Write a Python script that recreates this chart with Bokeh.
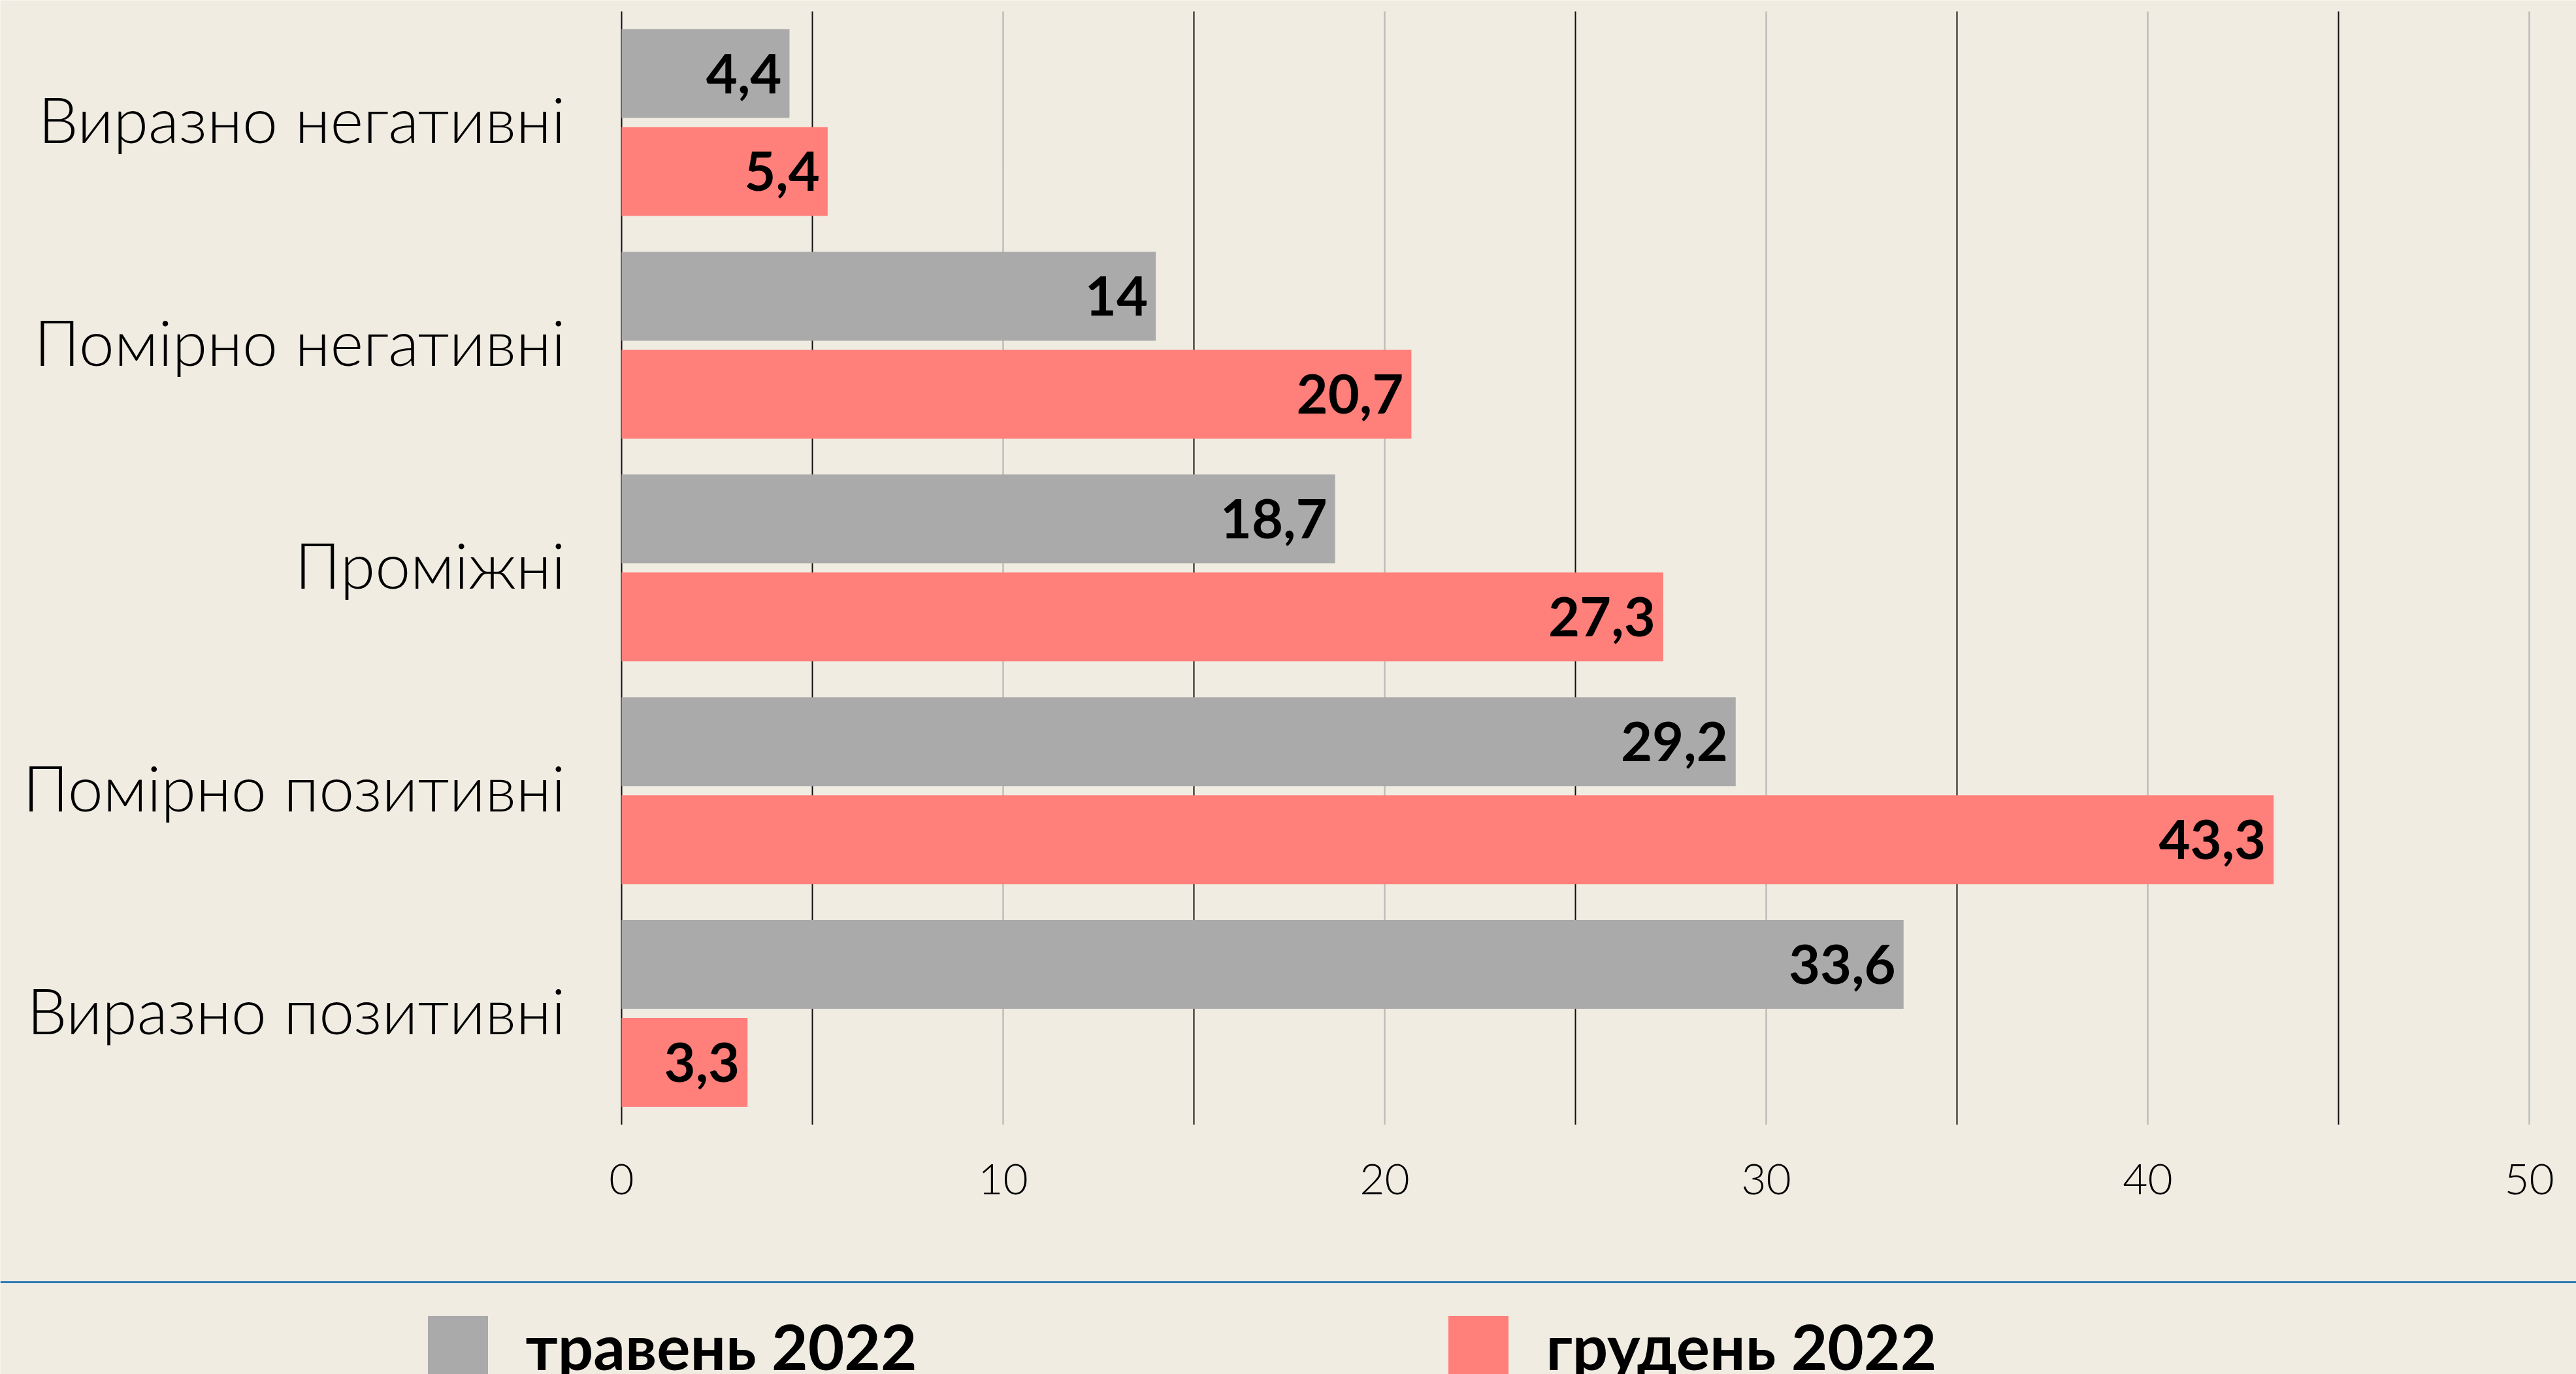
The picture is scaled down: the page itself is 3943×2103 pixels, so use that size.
from bokeh.plotting import figure
from bokeh.models import (ColumnDataSource, Range1d, FixedTicker, Grid,
                          Legend, LegendItem, Span)
from bokeh.transform import dodge
from bokeh.embed import file_html
from bokeh.resources import INLINE
from bokeh.core.properties import value

# ---- data ----
categories = ["Виразно негативні", "Помірно негативні", "Проміжні",
              "Помірно позитивні", "Виразно позитивні"]
may_2022 = [4.4, 14.0, 18.7, 29.2, 33.6]
dec_2022 = [5.4, 20.7, 27.3, 43.3, 3.3]
series_names = ["травень 2022", "грудень 2022"]
x_ticks = [0, 10, 20, 30, 40, 50]
dark_grid = [0, 5, 15, 25, 35, 45]
light_grid = [10, 20, 30, 40, 50]


def fmt(v):
    s = f"{v:.1f}".replace(".", ",")
    if s.endswith(",0"):
        s = s[:-2]
    return s


# ---- style / layout ----
BG = "#f0ece2"
GREY = "#aaaaaa"
RED = "#ff7f7a"
BLUE = "#2b7bb4"
W, H = 3943, 2103
X0_PX = 951          # canvas x of value 0
PX_PER_UNIT = 58.4
TOP0 = 187           # canvas y of first category centre
PITCH = 340.9        # px per category
SEP_Y = 1962         # canvas y of separator line

n = len(categories)
cat_y = [-i for i in range(n)]

src = ColumnDataSource(dict(
    y=cat_y, cat=categories, may=may_2022, dec=dec_2022,
    may_lbl=[fmt(v) for v in may_2022], dec_lbl=[fmt(v) for v in dec_2022],
))
tick_src = ColumnDataSource(dict(x=x_ticks, lbl=[str(t) for t in x_ticks],
                                 y=[-(n - 0.5)] * len(x_ticks)))

p = figure(width=W, height=H,
           x_range=Range1d(-X0_PX / PX_PER_UNIT, (W - X0_PX) / PX_PER_UNIT),
           y_range=Range1d(-(H - TOP0) / PITCH, TOP0 / PITCH),
           output_backend="svg", toolbar_location=None,
           x_axis_location=None, y_axis_location=None,
           min_border=0, min_border_left=0, min_border_right=0,
           min_border_top=0, min_border_bottom=0,
           background_fill_color=BG, border_fill_color=BG,
           outline_line_color=None)
p.grid.visible = False

band = (-(n - 0.5), 0.5)
p.add_layout(Grid(dimension=0, ticker=FixedTicker(ticks=light_grid),
                  cross_bounds=band,
                  grid_line_color="#bdbdb9", grid_line_width=2.5))
p.add_layout(Grid(dimension=0, ticker=FixedTicker(ticks=dark_grid),
                  cross_bounds=band,
                  grid_line_color="#111111", grid_line_width=2))

OFF = 0.22
BH = 0.399
r_may = p.hbar(y=dodge("y", OFF), right="may", left=0, height=BH,
               source=src, fill_color=GREY, line_color=None)
r_dec = p.hbar(y=dodge("y", -OFF), right="dec", left=0, height=BH,
               source=src, fill_color=RED, line_color=None)

lbl_kw = dict(text_align="right", text_baseline="middle", x_offset=-12,
              text_font=value("Lato"), text_font_style="bold",
              text_font_size="83px", text_color="black", source=src)
p.text(x="may", y=dodge("y", OFF), text="may_lbl", **lbl_kw)
p.text(x="dec", y=dodge("y", -OFF), text="dec_lbl", **lbl_kw)

# category labels (left of the zero line)
p.text(x=x_ticks[0], y="y", text="cat", source=src,
       text_align="right", text_baseline="middle", x_offset=-86, y_offset=-6,
       text_font=value("Lato Light"), text_font_size="97px", text_color="black")

# value-axis tick labels
p.text(x="x", y="y", text="lbl", source=tick_src,
       text_align="center", text_baseline="top", y_offset=60,
       text_font=value("Lato Light"), text_font_size="66px", text_color="black")

# separator line
p.add_layout(Span(location=(TOP0 - SEP_Y) / PITCH, dimension="width",
                  line_color=BLUE, line_width=3))

legend = Legend(items=[LegendItem(label=series_names[0], renderers=[r_may]),
                       LegendItem(label=series_names[1], renderers=[r_dec])],
                orientation="horizontal",
                location=(642.5, H - 2001.5 - 115),
                glyph_width=115, glyph_height=115,
                label_standoff=47, label_width=1400, spacing=0,
                padding=0, margin=0,
                border_line_color=None, background_fill_alpha=0,
                label_text_font="Lato", label_text_font_style="bold",
                label_text_font_size="96px", label_text_color="black")
p.add_layout(legend)

open("out.html", "w").write(file_html(p, INLINE))
